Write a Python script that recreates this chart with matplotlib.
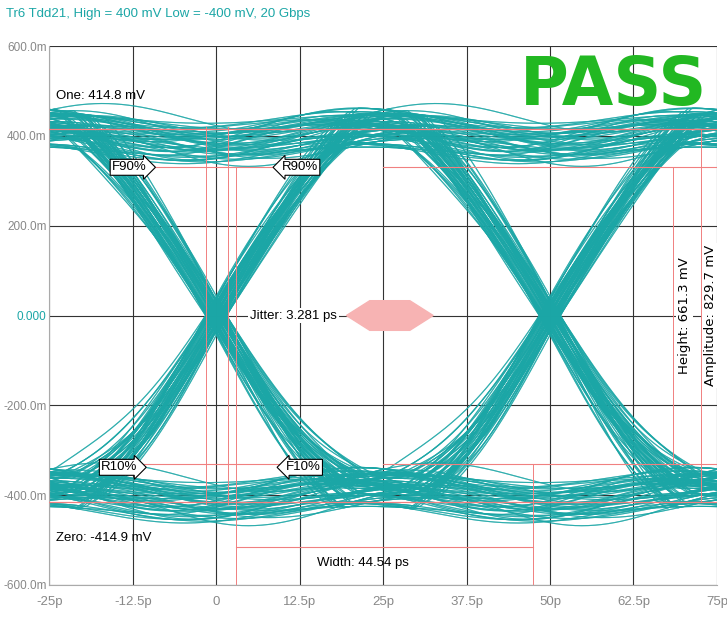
import matplotlib
matplotlib.use("Agg")
import matplotlib.pyplot as plt
import numpy as np
from matplotlib.patches import Polygon

plt.rcParams["font.family"] = ["Liberation Sans", "DejaVu Sans"]

TITLE = "Tr6 Tdd21, High = 400 mV Low = -400 mV, 20 Gbps"
X_TICKS = [-25, -12.5, 0, 12.5, 25, 37.5, 50, 62.5, 75]
X_LABELS = ["-25p", "-12.5p", "0", "12.5p", "25p", "37.5p", "50p", "62.5p", "75p"]
Y_TICKS = [-600, -400, -200, 0, 200, 400, 600]
Y_LABELS = ["-600.0m", "-400.0m", "-200.0m", "0.000", "200.0m", "400.0m", "600.0m"]

ONE_LEVEL = 414.8
ZERO_LEVEL = -414.9
EYE_TOP = 330.0
EYE_BOTTOM = -331.3
WIDTH_LEFT, WIDTH_RIGHT, WIDTH_Y = 2.9, 47.5, -515.0
JITTER_LEFT, JITTER_RIGHT = -1.6, 1.7

# bit patterns at (-25, 25, 75) ps
BITS = ["000", "001", "010", "011", "100", "101", "110", "111"]
# per-variant data: edge shift (ps), level offset (mV), ripple amplitude (mV),
# ripple phase (rad), edge half-duration (ps)
SHIFT = [-1.4, 0.6, 1.2, -0.8, 0.3, -1.1, 1.5, -0.2, 0.9, -1.6, 0.1, 1.3, -0.5, 0.7, -1.2, 1.0,
         -0.3, 1.6, -0.9, 0.4, -1.5, 0.2, 1.1, -0.7, 0.8, -1.3, 0.0, 1.4, -0.6, 0.5, -1.0, 1.2,
         -0.4, 0.9, -1.4, 0.6, 1.5, -0.1, -0.9, 0.3, 1.1, -1.2, 0.7, -0.5, 0.2, -1.6, 1.3, -0.2]
OFFSET = [12, -25, 30, -8, 20, -35, 5, 28, -18, 40, -5, 15, -30, 22, 8, -12,
          35, -20, 0, 18, -40, 10, 25, -15, -2, 32, -28, 14, 6, -22, 38, -10,
          -34, 16, 2, -6, 26, -16, 9, 36, -24, 4, 20, -38, 11, -14, 30, -3]
RIP_AMP = [20, 30, 15, 35, 25, 10, 40, 22, 18, 32, 28, 12, 38, 24, 16, 30,
           26, 14, 34, 20, 22, 36, 12, 28, 30, 18, 24, 40, 16, 26, 10, 32,
           20, 34, 28, 14, 22, 38, 30, 18, 26, 12, 36, 20, 24, 16, 32, 28]
RIP_PH = [0.0, 0.6, -0.4, 1.0, -0.8, 0.3, 0.9, -0.2, 0.5, -1.0, 0.2, 0.7, -0.6, 0.1, 1.2, -0.3,
          0.4, -0.9, 0.8, -0.1, 0.6, -0.5, 1.1, -0.7, 0.3, 0.0, -0.4, 0.9, -1.1, 0.5, 0.2, -0.6,
          0.7, -0.2, 1.0, -0.8, 0.1, 0.4, -0.3, 0.6, -1.0, 0.8, -0.5, 0.2, 1.2, -0.1, 0.5, -0.7]
EDGE_T = [19, 21, 18, 22, 20, 19.5, 21.5, 18.5, 20.5, 22.5, 19, 21, 18, 20, 22, 19.5,
          21, 18.5, 20, 22, 19, 21.5, 18, 20.5, 19.5, 22, 18.5, 21, 20, 19, 22.5, 18,
          20.5, 21, 19, 18.5, 22, 20, 21.5, 19.5, 18, 20.5, 22, 19, 21, 18.5, 20, 21.5]

TEAL = "#1ba6a6"
RED = "#f08080"
FS = 9.5


def edge(t, half):
    s = np.clip(t / half, -1, 1)
    return 0.5 + 0.5 * (0.55 * s + 0.45 * np.sin(np.pi * s / 2))


fig = plt.figure(figsize=(7.27, 6.22), dpi=100)
ax = fig.add_axes([0.068, 0.0595, 0.918, 0.8665])
t = np.linspace(-25, 75, 500)

for bits in BITS:
    b = [1 if c == "1" else -1 for c in bits]
    for sh, off, ra, ph, half in zip(SHIFT, OFFSET, RIP_AMP, RIP_PH, EDGE_T):
        v = b[0] + (b[1] - b[0]) * edge(t - sh, half) + (b[2] - b[1]) * edge(t - 50 - sh, half)
        wob = ra * np.cos(2 * np.pi * (t - 25) / 50 + ph) + off
        y = 400 * v + wob * np.abs(v) ** 2
        ax.plot(t, y, color=TEAL, lw=0.8, alpha=0.7)

# pink measurement lines
for yy in (ONE_LEVEL, ZERO_LEVEL):
    ax.axhline(yy, color=RED, lw=0.9, zorder=3)
ax.plot([-12, 12], [EYE_TOP, EYE_TOP], color=RED, lw=0.8)
ax.plot([-12, 12], [EYE_BOTTOM, EYE_BOTTOM], color=RED, lw=0.8)
ax.plot([25, 75], [EYE_TOP, EYE_TOP], color=RED, lw=0.8)
ax.plot([25, 75], [EYE_BOTTOM, EYE_BOTTOM], color=RED, lw=0.8)
for xx in (JITTER_LEFT, JITTER_RIGHT):
    ax.plot([xx, xx], [-420, 420], color=RED, lw=0.7)
ax.plot([WIDTH_LEFT, WIDTH_LEFT], [-600, 330], color=RED, lw=0.7)
ax.plot([WIDTH_RIGHT, WIDTH_RIGHT], [-600, -330], color=RED, lw=0.7)
ax.plot([WIDTH_LEFT, WIDTH_RIGHT], [WIDTH_Y, WIDTH_Y], color=RED, lw=0.8)
ax.plot([68.5, 68.5], [EYE_BOTTOM, EYE_TOP], color=RED, lw=0.7)
ax.plot([72.7, 72.7], [ZERO_LEVEL, ONE_LEVEL], color=RED, lw=0.7)

# mask hexagon
ax.add_patch(Polygon([[19.5, 0], [23, 33], [29, 33], [32.5, 0], [29, -33], [23, -33]],
                     closed=True, color="#f7b3b3", zorder=3))

# grid
ax.set_xlim(-25, 75)
ax.set_ylim(-600, 600)
ax.set_xticks(X_TICKS)
ax.set_xticklabels(X_LABELS)
ax.set_yticks(Y_TICKS)
ax.set_yticklabels(Y_LABELS)
ax.grid(True, color="#333333", lw=0.8)
ax.set_axisbelow(True)
ax.tick_params(length=0, labelsize=FS, labelcolor="#888888", pad=8)
ax.tick_params(axis="y", labelsize=8.5, pad=2)
ax.get_yticklabels()[3].set_color(TEAL)
for s in ("top", "right"):
    ax.spines[s].set_visible(False)
for s in ("left", "bottom"):
    ax.spines[s].set_color("#aaaaaa")

# annotations
box = dict(boxstyle="square,pad=0.15", fc="white", ec="none")
ax.text(-24, 488, "One: 414.8 mV", fontsize=FS, va="center", zorder=5)
ax.text(-24, -495, "Zero: -414.9 mV", fontsize=FS, va="center", zorder=5)
ax.text(5, 0, "Jitter: 3.281 ps", fontsize=FS, va="center", zorder=5, bbox=box)
ax.text(22, -550, "Width: 44.54 ps", fontsize=FS, ha="center", va="center", zorder=5)
for x, y, s, style in [(-13, 330, "F90%", "rarrow"), (12.5, 330, "R90%", "larrow"),
                       (-14.5, -338, "R10%", "rarrow"), (13, -338, "F10%", "larrow")]:
    ax.text(x, y, s, fontsize=FS, ha="center", va="center", zorder=5,
            bbox=dict(boxstyle=style + ",pad=0.15", fc="white", ec="black", lw=0.8))
ax.text(70.2, 0, "Height: 661.3 mV", fontsize=FS, rotation=90, ha="center", va="center",
        family="DejaVu Sans", zorder=5, bbox=box)
ax.text(74.1, 0, "Amplitude: 829.7 mV", fontsize=FS, rotation=90, ha="center", va="center",
        family="DejaVu Sans", zorder=5, bbox=box)
ax.text(59.5, 510, "PASS", fontsize=48, fontweight="bold", color="#22b822", ha="center",
        va="center", family="DejaVu Sans", zorder=6)

fig.text(0.008, 0.978, TITLE, fontsize=FS, color=TEAL, va="center")
fig.savefig("out.png", dpi=100)
